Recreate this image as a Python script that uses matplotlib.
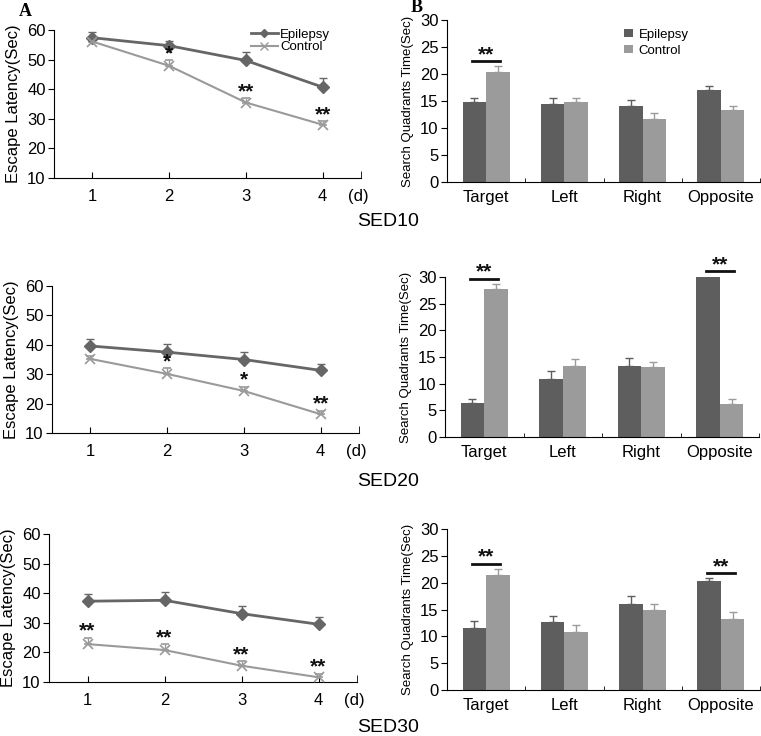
import matplotlib.pyplot as plt
import numpy as np
from matplotlib import font_manager
from matplotlib.lines import Line2D

W, H = 761, 736

days = [1, 2, 3, 4]
quadrants = ["Target", "Left", "Right", "Opposite"]
doses = ["SED10", "SED20", "SED30"]

# escape latency (A)
epi_lat = [[57.4, 54.7, 49.7, 40.7],
           [39.6, 37.5, 35.0, 31.3],
           [37.3, 37.6, 33.1, 29.5]]
epi_lat_err = [[2.0, 1.7, 2.7, 3.2],
               [2.3, 2.7, 2.4, 2.1],
               [2.4, 2.8, 2.6, 2.5]]
ctl_lat = [[56.1, 47.9, 35.5, 28.0],
           [35.2, 30.1, 24.3, 16.4],
           [22.8, 20.8, 15.5, 11.6]]
ctl_lat_err = [[0.8, 2.0, 1.5, 1.1],
               [1.0, 1.9, 1.5, 1.2],
               [2.2, 2.0, 1.5, 1.2]]
lat_stars = [["", "*", "**", "**"],
             ["", "*", "*", "**"],
             ["**", "**", "**", "**"]]

# search quadrant time (B)
epi_time = [[14.85, 14.4, 14.0, 17.0],
            [6.35, 10.8, 13.4, 30.0],
            [11.6, 12.6, 16.0, 20.4]]
epi_time_err = [[0.75, 1.2, 1.2, 0.75],
                [0.85, 1.6, 1.35, 0.2],
                [1.3, 1.1, 1.6, 0.5]]
ctl_time = [[20.4, 14.85, 11.6, 13.4],
            [27.75, 13.25, 13.2, 6.2],
            [21.4, 10.9, 15.0, 13.2]]
ctl_time_err = [[1.1, 0.65, 1.1, 0.6],
                [1.0, 1.45, 0.8, 0.9],
                [1.2, 1.2, 1.1, 1.3]]
time_sig = [["**", "", "", ""],
            ["**", "", "", "**"],
            ["**", "", "", "**"]]

# pixel boxes (left, top, right, bottom)
line_boxes = [(54, 30, 361, 178), (52, 286, 359, 433), (49, 534, 357, 682)]
bar_boxes = [(447, 20, 760, 182), (445, 277, 759, 437), (447, 529, 760, 690)]
dose_label_y = [222, 482, 727]

names = {f.name for f in font_manager.fontManager.ttflist}
fam = "Liberation Sans Narrow" if "Liberation Sans Narrow" in names else "Liberation Sans"
plt.rcParams["font.family"] = [fam, "DejaVu Sans"]

epi_c = "#5e5e5e"
ctl_c = "#9b9b9b"
epi_line = "#666666"
ctl_line = "#9a9a9a"
star_fs = 15


def rect(box):
    l, t, r, b = box
    return [l / W, 1 - b / H, (r - l) / W, (b - t) / H]


def px2data(ax, px):
    # vertical pixel distance -> data units
    h = ax.get_position().height * H
    lo, hi = ax.get_ylim()
    return px * (hi - lo) / h


def linePanel(fig, i):
    ax = fig.add_axes(rect(line_boxes[i]))
    ax.errorbar(days, epi_lat[i], yerr=[np.zeros(4), epi_lat_err[i]],
                color=epi_line, ecolor=epi_line, lw=2, marker="D", ms=6,
                capsize=3, elinewidth=1, zorder=3)
    ax.errorbar(days, ctl_lat[i], yerr=[np.zeros(4), ctl_lat_err[i]],
                color=ctl_line, ecolor=ctl_line, lw=1.5, marker="x", ms=7,
                mew=1.2, capsize=3, elinewidth=1, zorder=3)
    ax.set_xlim(0.5, 4.5)
    ax.set_ylim(10, 60)
    for d, m, e, s in zip(days, ctl_lat[i], ctl_lat_err[i], lat_stars[i]):
        if s:
            ax.text(d, m + e + px2data(ax, 1), s, ha="center", va="baseline",
                    fontsize=star_fs, fontweight="bold", color="#111111", zorder=6)
    ax.set_yticks(range(10, 61, 10))
    ax.set_xticks(days)
    ax.set_xticks([4.5], minor=True)
    ax.spines["top"].set_visible(False)
    ax.spines["right"].set_visible(False)
    ax.tick_params(axis="x", direction="in", length=4, labelsize=12, pad=8)
    ax.tick_params(axis="x", which="minor", direction="in", length=5)
    ax.tick_params(axis="y", direction="out", length=4, labelsize=12, pad=2)
    ax.set_ylabel("Escape Latency(Sec)", fontsize=12, labelpad=4)
    ax.annotate("(d)", xy=(1.0, 0), xycoords="axes fraction",
                xytext=(-2, -8), textcoords="offset points",
                ha="center", va="top", fontsize=12)
    if i == 0:
        handles = [Line2D([], [], color=epi_line, lw=2, marker="D", ms=4.5),
                   Line2D([], [], color=ctl_line, lw=1.5, marker="x", ms=5.5, mew=1)]
        ax.legend(handles, ["Epilepsy", "Control"], loc="upper right",
                  bbox_to_anchor=(0.93, 1.07), frameon=False,
                  fontsize=9.5, handlelength=2.0, handletextpad=0.2,
                  labelspacing=0.0, borderpad=0.2)
    return ax


def barPanel(fig, i):
    ax = fig.add_axes(rect(bar_boxes[i]))
    x = np.arange(len(quadrants))
    w = 0.3
    ax.bar(x - w / 2, epi_time[i], w, color=epi_c, label="Epilepsy",
           yerr=[np.zeros(4), epi_time_err[i]], capsize=3,
           error_kw=dict(ecolor=epi_c, elinewidth=1))
    ax.bar(x + w / 2, ctl_time[i], w, color=ctl_c, label="Control",
           yerr=[np.zeros(4), ctl_time_err[i]], capsize=3,
           error_kw=dict(ecolor=ctl_c, elinewidth=1))
    ax.set_xlim(-0.5, 3.5)
    ax.set_ylim(0, 30)
    for q, s in enumerate(time_sig[i]):
        if s:
            top = max(epi_time[i][q] + epi_time_err[i][q],
                      ctl_time[i][q] + ctl_time_err[i][q]) + 0.9
            ax.plot([q - 0.18, q + 0.18], [top, top], color="#111111",
                    lw=2, clip_on=False)
            ax.text(q, top + px2data(ax, 1), s, ha="center", va="baseline",
                    fontsize=star_fs, fontweight="bold", color="#111111")
    ax.set_yticks(range(0, 31, 5))
    ax.set_xticks(x, quadrants)
    ax.set_xticks([0.5, 1.5, 2.5, 3.5], minor=True)
    ax.spines["top"].set_visible(False)
    ax.spines["right"].set_visible(False)
    ax.tick_params(axis="x", length=0, labelsize=12, pad=6)
    ax.tick_params(axis="x", which="minor", direction="in", length=3)
    ax.tick_params(axis="y", direction="out", length=4, labelsize=12, pad=2)
    ax.set_ylabel("Search Quadrants Time(Sec)", fontsize=9.5, labelpad=4)
    if i == 0:
        ax.legend(loc="upper right", bbox_to_anchor=(0.81, 1.02), frameon=False,
                  fontsize=9.5, handlelength=0.7, handleheight=0.6,
                  handletextpad=0.4, labelspacing=0.3)
    return ax


fig = plt.figure(figsize=(W / 100, H / 100), dpi=100)

for i in range(3):
    linePanel(fig, i)
    barPanel(fig, i)
    fig.text(388 / W, 1 - dose_label_y[i] / H, doses[i], ha="center",
             va="center", fontsize=14)

fig.text(25 / W, 1 - 11 / H, "A", family="Liberation Serif", fontweight="bold",
         fontsize=13, ha="center", va="center")
fig.text(417 / W, 1 - 8 / H, "B", family="Liberation Serif", fontweight="bold",
         fontsize=13, ha="center", va="center")

plt.savefig("out.png", dpi=100)
